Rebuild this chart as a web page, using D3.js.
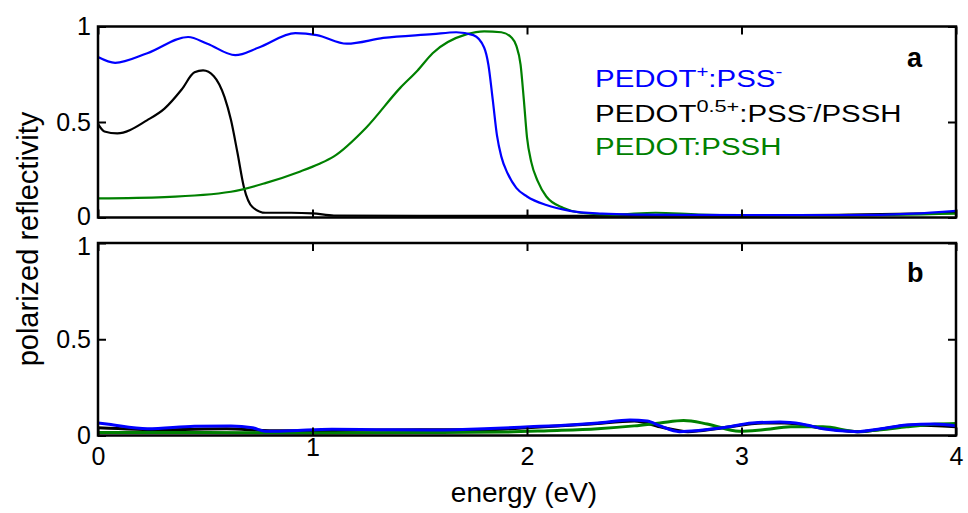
<!DOCTYPE html>
<html>
<head>
<meta charset="utf-8">
<script src="https://cdn.jsdelivr.net/npm/d3@7"></script>
<style>
  body { margin: 0; background: #fff; }
  text { font-family: "Liberation Sans", Arial, sans-serif; }
</style>
</head>
<body>
<svg id="chart" width="968" height="513"></svg>
<script>
// panel a (top)
var aBlackE = [0, 0.03, 0.09, 0.23, 0.31, 0.39, 0.45, 0.49, 0.54, 0.59, 0.62, 0.65, 0.68, 0.72, 0.78, 0.9, 1.0, 1.1, 1.5, 2.0, 2.5, 3.0, 3.5, 3.8, 4.0];
var aBlackR = [0.49, 0.45, 0.44, 0.51, 0.57, 0.67, 0.76, 0.77, 0.74, 0.63, 0.51, 0.34, 0.16, 0.055, 0.025, 0.025, 0.022, 0.01, 0.008, 0.008, 0.01, 0.01, 0.015, 0.02, 0.025];

var aGreenE = [0, 0.31, 0.62, 0.78, 0.94, 1.03, 1.10, 1.25, 1.41, 1.49, 1.56, 1.72, 1.80, 1.88, 1.93, 1.95, 1.97, 1.985, 2.00, 2.02, 2.05, 2.09, 2.17, 2.25, 2.4, 2.6, 2.8, 3.0, 3.5, 4.0];
var aGreenR = [0.10, 0.107, 0.135, 0.18, 0.24, 0.28, 0.32, 0.47, 0.68, 0.77, 0.86, 0.96, 0.975, 0.97, 0.94, 0.90, 0.80, 0.62, 0.42, 0.29, 0.19, 0.11, 0.05, 0.025, 0.015, 0.025, 0.015, 0.012, 0.012, 0.02];

var aBlueE = [0, 0.08, 0.23, 0.42, 0.51, 0.64, 0.75, 0.92, 1.02, 1.16, 1.33, 1.56, 1.67, 1.75, 1.80, 1.82, 1.84, 1.86, 1.88, 1.91, 1.95, 2.0, 2.09, 2.2, 2.35, 2.5, 3.0, 3.5, 3.8, 4.0];
var aBlueR = [0.84, 0.81, 0.86, 0.945, 0.91, 0.85, 0.89, 0.965, 0.955, 0.91, 0.94, 0.96, 0.97, 0.955, 0.89, 0.80, 0.62, 0.43, 0.32, 0.23, 0.155, 0.11, 0.065, 0.035, 0.02, 0.015, 0.012, 0.012, 0.02, 0.035];

// panel b (bottom)
var bBlackE = [0, 0.3, 0.6, 0.8, 1.0, 1.3, 1.5, 1.8, 2.0, 2.3, 2.5, 2.62, 2.75, 2.9, 3.1, 3.2, 3.4, 3.55, 3.8, 4.0];
var bBlackR = [0.04, 0.03, 0.035, 0.025, 0.025, 0.028, 0.03, 0.03, 0.04, 0.06, 0.075, 0.045, 0.02, 0.038, 0.065, 0.065, 0.035, 0.02, 0.055, 0.045];

var bGreenE = [0, 0.5, 1.0, 1.5, 1.9, 2.1, 2.33, 2.5, 2.62, 2.73, 2.84, 2.99, 3.1, 3.23, 3.38, 3.54, 3.65, 3.77, 3.9, 4.0];
var bGreenR = [0.015, 0.015, 0.013, 0.015, 0.018, 0.025, 0.035, 0.05, 0.065, 0.078, 0.06, 0.022, 0.03, 0.045, 0.045, 0.02, 0.03, 0.045, 0.058, 0.062];

var bBlueE = [0, 0.05, 0.23, 0.45, 0.62, 0.72, 0.78, 0.9, 1.09, 1.3, 1.55, 1.8, 2.01, 2.2, 2.33, 2.48, 2.56, 2.62, 2.71, 2.91, 3.05, 3.18, 3.28, 3.38, 3.54, 3.65, 3.77, 3.9, 4.0];
var bBlueR = [0.065, 0.058, 0.035, 0.048, 0.05, 0.04, 0.022, 0.025, 0.032, 0.03, 0.028, 0.035, 0.045, 0.055, 0.065, 0.08, 0.075, 0.05, 0.02, 0.04, 0.065, 0.07, 0.06, 0.035, 0.02, 0.035, 0.055, 0.06, 0.05];

var xTicks = [0, 1, 2, 3, 4];
var yTicks = [0, 0.5, 1];
var yTickLabels = ["0", "0.5", "1"];
var seriesColors = ["#000000", "#008000", "#0000ff"];

var svg = d3.select("#chart");

var xScale = d3.scaleLinear().domain([0, 4]).range([98, 956]);
var yTop = d3.scaleLinear().domain([0, 1]).range([217.5, 26.5]);
var yBot = d3.scaleLinear().domain([0, 1]).range([435.5, 243]);

function zip(es, rs) {
  var out = [];
  for (var i = 0; i < es.length; i++) out.push([es[i], rs[i]]);
  return out;
}

function drawPanel(yScale, series, width, showX, tag) {
  var g = svg.append("g");
  var x0 = xScale.range()[0], x1 = xScale.range()[1];
  var y0 = yScale.range()[0], y1 = yScale.range()[1];

  var line = d3.line()
    .x(function (d) { return xScale(d[0]); })
    .y(function (d) { return yScale(d[1]); })
    .curve(d3.curveMonotoneX);

  for (var i = 0; i < series.length; i++) {
    g.append("path")
      .datum(series[i])
      .attr("fill", "none")
      .attr("stroke", seriesColors[i])
      .attr("stroke-width", width)
      .attr("stroke-linejoin", "round")
      .attr("d", line);
  }

  // inward ticks on all four sides
  var bottom = d3.axisBottom(xScale).tickValues(xTicks).tickSizeInner(-8).tickSizeOuter(0).tickPadding(12)
    .tickFormat(showX ? d3.format("d") : "");
  var top = d3.axisTop(xScale).tickValues(xTicks).tickSizeInner(-8).tickSizeOuter(0).tickFormat("");
  var left = d3.axisLeft(yScale).tickValues(yTicks).tickSizeInner(-8).tickSizeOuter(0).tickPadding(7)
    .tickFormat(function (d, i) { return yTickLabels[i]; });
  var right = d3.axisRight(yScale).tickValues(yTicks).tickSizeInner(-8).tickSizeOuter(0).tickFormat("");

  var axes = [
    [bottom, "translate(0," + y0 + ")"],
    [top, "translate(0," + y1 + ")"],
    [left, "translate(" + x0 + ",0)"],
    [right, "translate(" + x1 + ",0)"]
  ];
  axes.forEach(function (a) {
    var ag = g.append("g").attr("transform", a[1]).call(a[0]);
    ag.select(".domain").remove();
    ag.selectAll(".tick line").attr("stroke", "#000").attr("stroke-width", 2);
    ag.selectAll(".tick text")
      .attr("fill", "#000")
      .style("font-size", "25px")
      .style("font-family", "'Liberation Sans', Arial, sans-serif");
  });

  // keep the neighbouring "0" (panel a) and "1" (panel b) labels apart
  g.selectAll(".tick text").filter(function (d) {
    return (tag === "a" && d === 0) || (tag === "b" && d === 1);
  }).attr("y", tag === "a" ? -1 : 3);

  g.append("rect")
    .attr("x", x0).attr("y", y1)
    .attr("width", x1 - x0).attr("height", y0 - y1)
    .attr("fill", "none").attr("stroke", "#000").attr("stroke-width", 2.5);

  g.append("text")
    .attr("x", 907).attr("y", y1 + (tag === "a" ? 40 : 39))
    .style("font-size", "27px")
    .style("font-weight", "bold")
    .text(tag);
}

drawPanel(yTop, [zip(aBlackE, aBlackR), zip(aGreenE, aGreenR), zip(aBlueE, aBlueR)], 2.2, false, "a");
drawPanel(yBot, [zip(bBlackE, bBlackR), zip(bGreenE, bGreenR), zip(bBlueE, bBlueR)], 3, true, "b");

// axis labels
svg.append("text")
  .attr("text-anchor", "middle")
  .attr("x", 524).attr("y", 502)
  .style("font-size", "28px")
  .text("energy (eV)");

svg.append("text")
  .attr("text-anchor", "middle")
  .attr("transform", "translate(38,239)rotate(-90)")
  .style("font-size", "29px")
  .text("polarized reflectivity");

// legend
var legend = svg.append("g").attr("transform", "translate(595,0) scale(1.28,1)");

var l1 = legend.append("text").attr("x", 0).attr("y", 87).attr("fill", "#0000ff").style("font-size", "23px");
l1.append("tspan").text("PEDOT");
l1.append("tspan").attr("dy", -10).style("font-size", "16px").text("+");
l1.append("tspan").attr("dy", 10).text(":PSS");
l1.append("tspan").attr("dy", -10).style("font-size", "16px").text("-");

var l2 = legend.append("text").attr("x", 0).attr("y", 122).attr("fill", "#000").style("font-size", "23px");
l2.append("tspan").text("PEDOT");
l2.append("tspan").attr("dy", -10).style("font-size", "17px").text("0.5+");
l2.append("tspan").attr("dy", 10).text(":PSS");
l2.append("tspan").attr("dy", -10).style("font-size", "16px").text("-");
l2.append("tspan").attr("dy", 10).text("/PSSH");

legend.append("text").attr("x", 0).attr("y", 155).attr("fill", "#008000").style("font-size", "23px").text("PEDOT:PSSH");
</script>
</body>
</html>
